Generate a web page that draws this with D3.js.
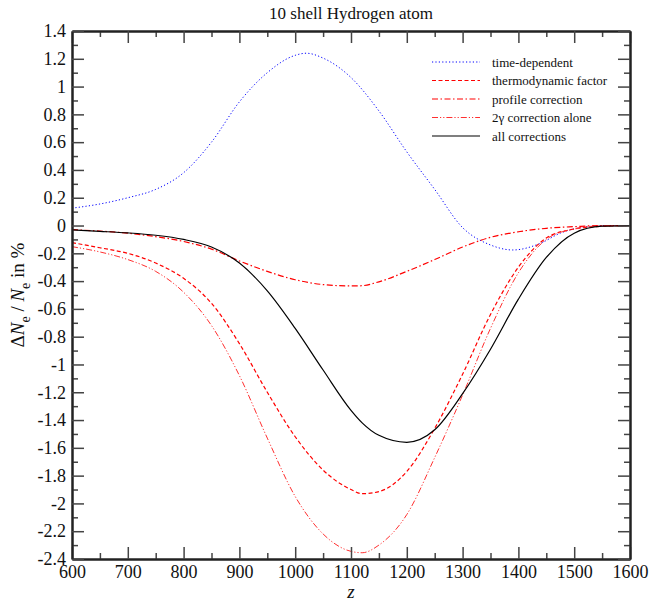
<!DOCTYPE html>
<html>
<head>
<meta charset="utf-8">
<script src="https://cdn.jsdelivr.net/npm/d3@7"></script>
<style>
  body { margin: 0; background: #fff; }
  svg { font-family: "Liberation Serif", "DejaVu Serif", serif; }
  .axis path { stroke: #222; stroke-width: 2; }
  .axis line { stroke: #444; stroke-width: 1.5; }
  .axis text { font-family: "Liberation Serif", "DejaVu Serif", serif; font-size: 18px; fill: #111; }
</style>
</head>
<body>
<div class="chart"></div>
<script>
// Data
// z values where each curve was read off
const zTime   = [600, 650, 700, 750, 800, 850, 900, 950, 1000, 1020, 1050, 1100, 1150, 1200, 1250, 1300, 1350, 1390, 1440, 1475, 1520, 1560, 1600];
const timeDep = [0.125, 0.155, 0.2, 0.26, 0.38, 0.6, 0.89, 1.1, 1.225, 1.24, 1.205, 1.065, 0.825, 0.53, 0.26, -0.015, -0.14, -0.176, -0.127, -0.055, -0.01, 0.0, 0.0];

const zGrid   = [600, 650, 700, 750, 800, 850, 900, 950, 1000, 1050, 1100, 1120, 1150, 1200, 1250, 1300, 1350, 1400, 1450, 1500, 1550, 1600];
const thermo  = [-0.123, -0.16, -0.2, -0.27, -0.38, -0.56, -0.85, -1.2, -1.52, -1.76, -1.9, -1.93, -1.915, -1.77, -1.46, -1.07, -0.64, -0.3, -0.09, -0.025, -0.005, 0];
const profile = [-0.03, -0.04, -0.055, -0.08, -0.115, -0.17, -0.255, -0.33, -0.39, -0.425, -0.435, -0.433, -0.405, -0.33, -0.245, -0.155, -0.085, -0.045, -0.02, -0.008, 0, 0];
const twoGamma= [-0.152, -0.19, -0.245, -0.33, -0.48, -0.72, -1.08, -1.53, -1.95, -2.22, -2.345, -2.355, -2.3, -2.08, -1.67, -1.22, -0.74, -0.34, -0.1, -0.025, -0.003, 0];
const allCorr = [-0.032, -0.042, -0.053, -0.07, -0.1, -0.155, -0.27, -0.47, -0.74, -1.04, -1.33, -1.42, -1.51, -1.56, -1.47, -1.21, -0.89, -0.53, -0.23, -0.055, -0.005, 0];

const seriesNames = ['time-dependent', 'thermodynamic factor', 'profile correction', '2\u03b3 correction alone', 'all corrections'];

const xTicks = d3.range(600, 1601, 100);
const yTicks = d3.range(-2.4, 1.41, 0.2).map(d => +d.toFixed(1));

const series = [
  {name: seriesNames[0], z: zTime, v: timeDep,  color: '#0000ff', dash: '1.2,2.2', width: 1},
  {name: seriesNames[1], z: zGrid, v: thermo,   color: '#ff0000', dash: '4,2.5',   width: 1.2},
  {name: seriesNames[2], z: zGrid, v: profile,  color: '#ff0000', dash: '6,2.5,1.5,2.5', width: 1.2},
  {name: seriesNames[3], z: zGrid, v: twoGamma, color: '#ff3030', dash: '6,2,1.2,2,1.2,2', width: 1},
  {name: seriesNames[4], z: zGrid, v: allCorr,  color: '#000000', dash: null,      width: 1.2}
];

function setupCanvas(){
    const svg_width = 652;
    const svg_height = 604;
    const margin = {top: 31, right: 22, bottom: 45, left: 72};
    const width = svg_width - margin.left - margin.right;
    const height = svg_height - margin.top - margin.bottom;

    const svg = d3.select('.chart').append('svg')
        .attr('width', svg_width).attr('height', svg_height);
    const g = svg.append('g')
        .attr('transform', `translate(${margin.left},${margin.top})`);

    const xScale = d3.scaleLinear().domain([600, 1600]).range([0, width]);
    const yScale = d3.scaleLinear().domain([-2.4, 1.4]).range([height, 0]);

    const lineGen = d3.line()
        .x(d => xScale(d[0]))
        .y(d => yScale(d[1]))
        .curve(d3.curveMonotoneX);

    // curves
    g.append('g').attr('class', 'curves')
        .selectAll('path').data(series).enter()
        .append('path')
        .attr('d', d => lineGen(d.z.map((z, i) => [z, d.v[i]])))
        .style('fill', 'none')
        .style('stroke', d => d.color)
        .style('stroke-width', d => d.width)
        .style('stroke-dasharray', d => d.dash);

    // minor ticks
    const xMinor = d3.range(650, 1600, 100);
    const yMinor = d3.range(-2.3, 1.4, 0.2).map(d => +d.toFixed(1));
    const minor = (axis) => axis.tickSizeOuter(0).tickFormat('');
    g.append('g').attr('class', 'axis').attr('transform', `translate(0,${height})`)
        .call(minor(d3.axisBottom(xScale).tickValues(xMinor).tickSizeInner(-6)));
    g.append('g').attr('class', 'axis')
        .call(minor(d3.axisTop(xScale).tickValues(xMinor).tickSizeInner(-6)));
    g.append('g').attr('class', 'axis')
        .call(minor(d3.axisLeft(yScale).tickValues(yMinor).tickSizeInner(-6)));
    g.append('g').attr('class', 'axis').attr('transform', `translate(${width},0)`)
        .call(minor(d3.axisRight(yScale).tickValues(yMinor).tickSizeInner(-6)));

    // major ticks, all pointing inward
    g.append('g').attr('class', 'axis x').attr('transform', `translate(0,${height})`)
        .call(d3.axisBottom(xScale).tickValues(xTicks).tickSizeInner(-12).tickSizeOuter(0).tickPadding(6)
            .tickFormat(d3.format('d')));
    g.append('g').attr('class', 'axis')
        .call(d3.axisTop(xScale).tickValues(xTicks).tickSizeInner(-12).tickSizeOuter(0).tickFormat(''));
    g.append('g').attr('class', 'axis y')
        .call(d3.axisLeft(yScale).tickValues(yTicks).tickSizeInner(-12).tickSizeOuter(0).tickPadding(6)
            .tickFormat(d => String(d)));
    g.append('g').attr('class', 'axis').attr('transform', `translate(${width},0)`)
        .call(d3.axisRight(yScale).tickValues(yTicks).tickSizeInner(-12).tickSizeOuter(0).tickFormat(''));

    // title
    svg.append('text')
        .attr('x', margin.left + width / 2).attr('y', 19)
        .attr('text-anchor', 'middle')
        .style('font-size', '17px').style('fill', '#111')
        .text('10 shell Hydrogen atom');

    // x label
    svg.append('text')
        .attr('x', margin.left + width / 2).attr('y', 598)
        .attr('text-anchor', 'middle')
        .style('font-size', '19px').style('font-style', 'italic').style('fill', '#111')
        .text('z');

    // y label
    const yl = svg.append('text')
        .attr('transform', `translate(24,${margin.top + height / 2}) rotate(-90)`)
        .attr('text-anchor', 'middle')
        .style('font-size', '19px').style('fill', '#111');
    yl.append('tspan').text('\u0394');
    yl.append('tspan').style('font-style', 'italic').text('N');
    yl.append('tspan').attr('dy', 6).style('font-size', '14px').text('e');
    yl.append('tspan').attr('dy', -6).text(' / ');
    yl.append('tspan').style('font-style', 'italic').text('N');
    yl.append('tspan').attr('dy', 6).style('font-size', '14px').text('e');
    yl.append('tspan').attr('dy', -6).text(' in %');

    // legend
    const legend = svg.append('g').attr('class', 'legend')
        .attr('transform', 'translate(432,62)');
    const rows = legend.selectAll('g').data(series).enter()
        .append('g')
        .attr('transform', (d, i) => `translate(0,${i * 18.5})`);
    rows.append('line')
        .attr('x1', 0).attr('x2', 48).attr('y1', 0).attr('y2', 0)
        .style('stroke', d => d.color)
        .style('stroke-width', d => d.width)
        .style('stroke-dasharray', d => d.dash);
    rows.append('text')
        .attr('x', 60).attr('y', 0)
        .style('dominant-baseline', 'central')
        .style('font-size', '13px').style('fill', '#111')
        .text(d => d.name);
}

setupCanvas();
</script>
</body>
</html>
